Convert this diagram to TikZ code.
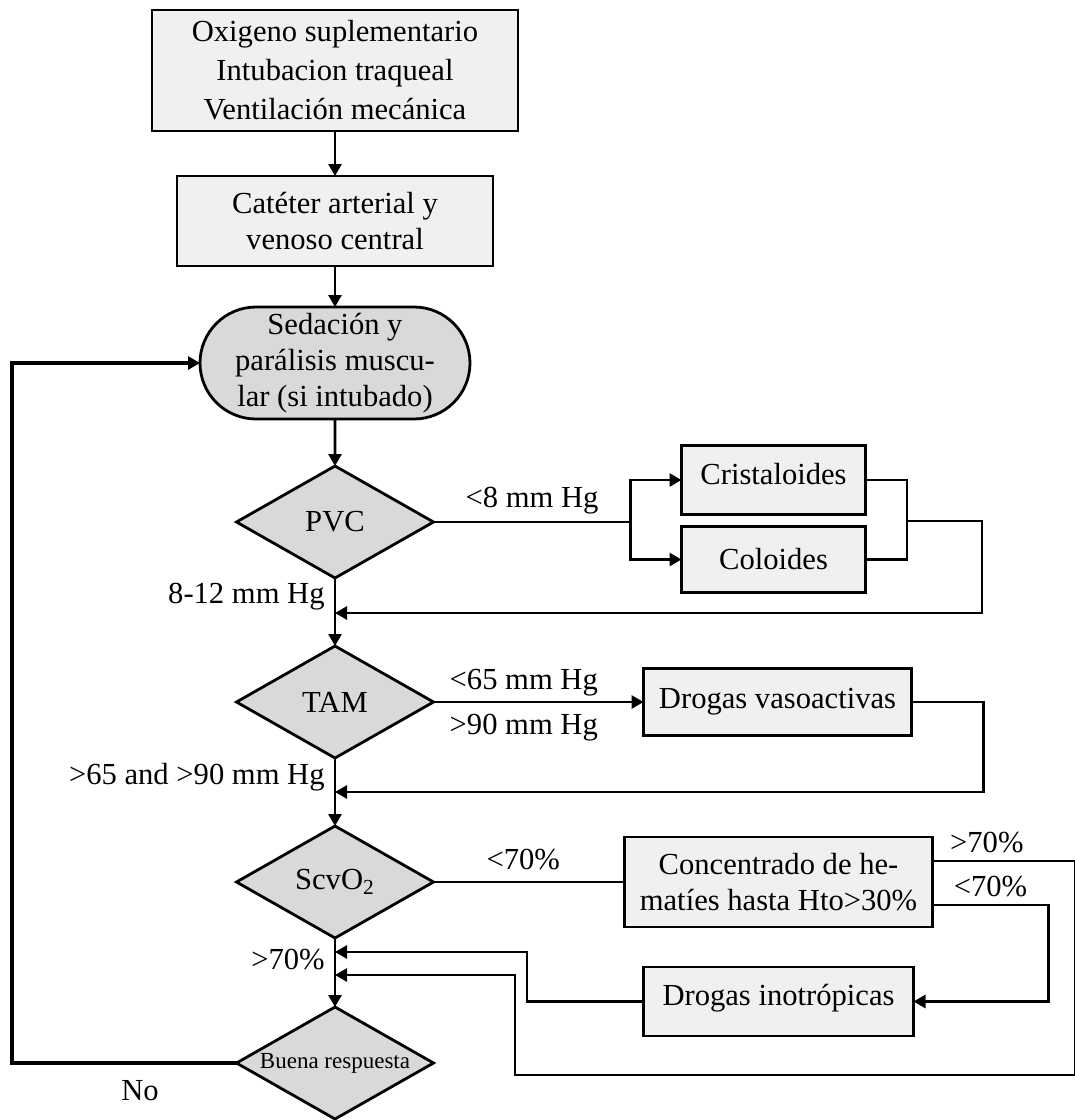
\documentclass[tikz,border=0pt]{standalone}
\usepackage{fontspec}
\setmainfont{Liberation Serif}
\usetikzlibrary{arrows.meta,calc,positioning,shapes.geometric,shapes.misc}

\tikzset{
  proc/.style={draw, line width=1.4pt, fill=gray!12, align=center, inner sep=2pt, outer sep=0pt},
  terminal/.style={draw, rounded rectangle, line width=1.4pt, fill=gray!30, align=center, inner sep=2pt, outer sep=0pt},
  decision/.style={draw, diamond, aspect=1.76, line width=1.4pt, fill=gray!30, inner sep=0pt, outer sep=0pt,
    minimum width=98.5pt, minimum height=56pt},
  link/.style={line width=1.4pt},
  flow/.style={link, -{Triangle[length=6pt,width=6.5pt]}},
  lbl/.style={inner sep=2.5pt}
}

\begin{document}
\begin{tikzpicture}[x=0.5pt, y=-0.5pt, font=\fontsize{15.3}{18}\selectfont]
    \useasboundingbox (0,0) rectangle (1075,1120);

    % main column
    \node[proc, minimum width=183pt, minimum height=60.5pt, font=\fontsize{15.3}{19.5}\selectfont] (oxi) at (335,70.5)
      {Oxigeno suplementario\\Intubacion traqueal\\Ventilación mecánica};
    \node[proc, below=22.5pt of oxi, minimum width=158pt, minimum height=45pt] (cat) {Catéter arterial y\\venoso central};
    \node[terminal, below=20.5pt of cat, minimum width=139pt, minimum height=56pt] (sed)
      {Sedación y\\parálisis muscu-\\lar (si intubado)};
    \node[decision, below=23.5pt of sed] (pvc) {PVC};
    \node[decision, below=34pt of pvc] (tam) {TAM};
    \node[decision, below=34pt of tam] (scv) {ScvO\textsubscript{2}};
    \node[decision, below=34.5pt of scv, font=\fontsize{11.5}{13}\selectfont] (buena) {Buena respuesta};

    % side boxes
    \node[proc, right=124pt of pvc, yshift=21pt, minimum width=92pt, minimum height=34.5pt] (crist) {\raisebox{6pt}{Cristaloides}};
    \node[proc, below=6pt of crist, minimum width=92pt, minimum height=33pt] (colo) {Coloides};
    \node[proc, right=105pt of tam, minimum width=134pt, minimum height=33.5pt] (vaso) {Drogas vasoactivas};
    \node[proc, right=95.5pt of scv, minimum width=154pt, minimum height=45pt] (conc)
      {Concentrado de he-\\matíes hasta Hto>30\%};
    \node[proc, below=20pt of conc, minimum width=135pt, minimum height=34.5pt] (ino) {\raisebox{7pt}{Drogas inotrópicas}};

    % entry points on the main column
    \coordinate (in1) at (pvc.south |- 0,613);
    \coordinate (in2) at (tam.south |- 0,792);
    \coordinate (in3) at (scv.south |- 0,952);
    \coordinate (in4) at (scv.south |- 0,975);
    \coordinate[right=98.5pt of pvc.east] (split);
    \coordinate (join) at (907,521);

    \draw[flow] (oxi) -- (cat);
    \draw[flow] (cat) -- (sed);
    \draw[flow] (sed) -- (pvc);
    \draw[flow] (pvc) -- node[lbl, left=2pt, pos=0.28] {8-12 mm Hg} (tam);
    \draw[flow] (tam) -- node[lbl, left=2pt, pos=0.28] {>65 and >90 mm Hg} (scv);
    \draw[flow] (scv) -- node[lbl, left=2pt, pos=0.31] {>70\%} (buena);

    % PVC loop
    \draw[link] (pvc.east) -- node[lbl, above=1pt] {<8 mm Hg} (split);
    \draw[flow] (split) |- (crist.west);
    \draw[flow] (split) |- (colo.west);
    \draw[link] (crist.east) -| (join) |- (colo.east);
    \draw[flow] (join) -- ++(75,0) |- (in1);

    % TAM loop
    \draw[flow] (tam) -- node[lbl, above=0pt, pos=0.43] {<65 mm Hg} node[lbl, below=3pt, pos=0.43] {>90 mm Hg} (vaso);
    \draw[flow] (vaso.east) -- ++(72,0) |- (in2);

    % ScvO2 loop
    \draw[link] (scv) -- node[lbl, above=3pt, pos=0.47] {<70\%} (conc);
    \draw[flow] ([yshift=10.5pt]conc.east) -- node[lbl, above=1pt, pos=0.38] {>70\%} ++(143,0) |- (515,1075) |- (in4);
    \draw[flow] ([yshift=-11.5pt]conc.east) -- node[lbl, above=1pt] {<70\%} ++(116,0) |- (ino.east);
    \draw[flow] (ino.west) -| (527,952) -- (in3);

    % no response
    \draw[flow, line width=2pt] (buena.west) -- node[lbl, below=5pt, pos=0.43] {No} (buena.west -| 12,0) |- (sed.west);
  \end{tikzpicture}
\end{document}
